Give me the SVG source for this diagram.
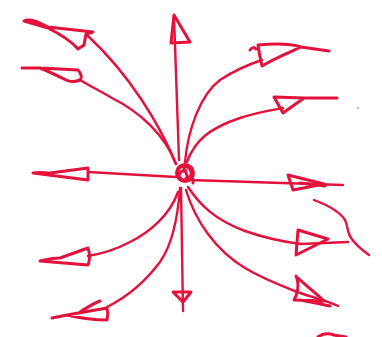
<svg xmlns="http://www.w3.org/2000/svg" width="382" height="337" viewBox="0 0 382 337">
<style>
.s{fill:none;stroke:#e3113b;stroke-width:2.4;stroke-linecap:round;stroke-linejoin:round}
.h{fill:none;stroke:#e3113b;stroke-width:3;stroke-linecap:round;stroke-linejoin:round}
</style>
<rect width="382" height="337" fill="#fff"/>
<g id="lines">
<!-- 1 top-left upper -->
<path class="s" d="M176,164 C160,125 130,75 88,36"/>
<path class="h" d="M24,21 C30,18 38,22 48,27 L93,32 L86,34 L84,45 L78,49 C72,42 64,36 48,28 Z"/>
<!-- 2 top-left lower -->
<path class="s" d="M176,164 C165,135 140,112 112,98 C100,91 90,86 80,80"/>
<path class="h" d="M22,68 L40,68 L78,70 C82,74 82,78 80,80 C75,82 70,82 66,80 C58,76 50,72 40,68"/>
<!-- 3 top -->
<path class="s" d="M179,160 C178,120 176,80 174,16"/>
<path class="h" d="M174,15 L171,43 L190,42 Z"/>
<!-- 4 upper right -->
<path class="s" d="M185,162 C188,130 200,95 220,80 C235,70 250,64 262,60"/>
<path class="h" d="M258,45 C280,43 292,44 301,47 L329,51 M301,47 C290,52 275,58 262,66 M258,45 C259,52 260,58 262,66 M250,50 C252,47 254,47 256,49"/>
<!-- 5 right upper-mid -->
<path class="s" d="M187,162 C195,140 210,128 240,118 C258,112 272,110 283,108"/>
<path class="h" d="M274,97 L304,98 L283,113 Z M304,98 L337,98"/>
<!-- 6 left -->
<path class="s" d="M176,177 L88,172"/>
<path class="h" d="M33,173 C40,172 45,173 50,173 L88,168 L88,180 Z"/>
<!-- 7 right -->
<path class="s" d="M190,180 L343,185"/>
<path class="h" d="M288,175 L324,184 L293,190 Z M300,183 L325,186"/>
<!-- 8 right lower -->
<path class="s" d="M188,187 C200,205 215,220 245,231 C265,238 285,242 301,244 L348,242"/>
<path class="h" d="M298,230 L296,255 L328,239 Z M298,230 L305,232"/>
<!-- 9 bottom right -->
<path class="s" d="M186,190 C195,220 215,250 245,268 C265,280 285,287 300,293 C315,298 330,302 338,306"/>
<path class="h" d="M296,276 C300,285 297,295 294,300 L324,301 C315,292 305,285 298,278 M300,300 C312,302 320,304 330,306"/>
<!-- 10 bottom -->
<path class="s" d="M181,188 L183,311"/>
<path class="h" d="M183,302 L173,292 L191,292 Z"/>
<!-- 11 bottom left -->
<path class="s" d="M178,192 C170,215 150,232 130,242 C115,250 100,254 88,256"/>
<path class="h" d="M40,261 C48,259 54,258 60,258 L88,248 C90,254 90,260 88,265 Z"/>
<!-- 12 bottom left lower -->
<path class="s" d="M180,188 C178,215 172,245 160,262 C145,282 125,298 107,307"/>
<path class="h" d="M52,318 L67,315 L107,308 C108,312 108,316 107,320 C95,320 80,318 67,315 M80,312 C88,307 94,303 100,301"/>
<!-- stray strokes -->
<path class="s" d="M314,200 C330,206 340,212 345,220 C348,226 347,232 351,238 C356,245 362,250 369,255"/>
<path class="h" d="M318,337 C322,334 328,333 334,335 C338,336 342,336 346,337"/>
</g>
<g id="source">
<circle cx="185" cy="173" r="8" fill="none" stroke="#e3113b" stroke-width="4"/>
<path class="h" d="M178,168 C182,164 190,166 191,172 C192,178 186,182 181,179 C177,176 180,170 186,171 M186,178 C190,176 194,178 193,183 M183,166 L189,180"/>
</g>
<circle cx="358" cy="108" r="1.2" fill="#bbb"/>
</svg>
